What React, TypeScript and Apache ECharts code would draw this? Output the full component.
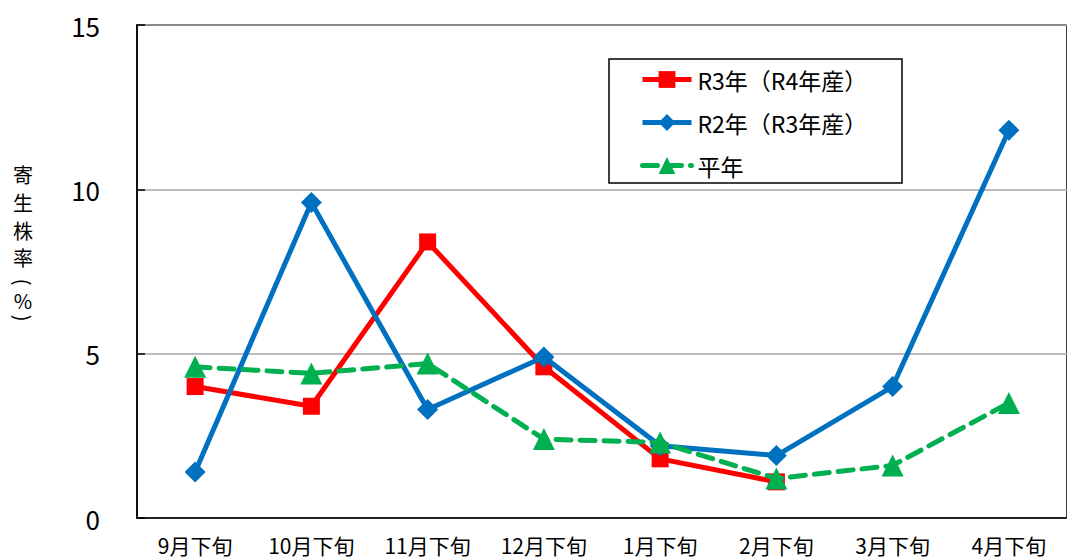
import React, { useEffect, useRef } from "react";
import * as echarts from "echarts";

const categories = ["9月下旬", "10月下旬", "11月下旬", "12月下旬", "1月下旬", "2月下旬", "3月下旬", "4月下旬"];
const seriesNames = ["R3年（R4年産）", "R2年（R3年産）", "平年"];
const r3Values = [4.0, 3.4, 8.4, 4.6, 1.8, 1.1, null, null];
const r2Values = [1.4, 9.6, 3.3, 4.9, 2.2, 1.9, 4.0, 11.8];
const avgValues = [4.6, 4.4, 4.7, 2.4, 2.3, 1.2, 1.6, 3.5];
const yTicks = { min: 0, max: 15, interval: 5 };
const yAxisNameChars = ["寄", "生", "株", "率", "(", "%", ")"];

const FONT = "'Noto Sans CJK JP', 'Noto Sans', sans-serif";

export default function App() {
  const ref = useRef<HTMLDivElement>(null);
  useEffect(() => {
    if (!ref.current) return;
    const chart = echarts.init(ref.current, undefined, { renderer: "svg" });
    const nameYs = [174, 202, 230, 257, 282, 300, 318];
    chart.setOption({
      animation: false,
      backgroundColor: "#ffffff",
      textStyle: { fontFamily: FONT },
      grid: {
        left: 137,
        width: 936,
        top: 25,
        height: 493,
        show: true,
        borderColor: "#000",
        borderWidth: 1.5,
        backgroundColor: "transparent",
      },
      legend: {
        data: seriesNames,
        orient: "vertical",
        left: 640,
        top: 68,
        padding: 0,
        itemGap: 20,
        itemWidth: 49,
        itemHeight: 21,
        z: 10,
        lineStyle: { width: 5 },
        textStyle: { fontSize: 23, color: "#000", fontFamily: FONT, lineHeight: 22, padding: [0, 0, 0, 1] },
      },
      xAxis: {
        type: "category",
        data: categories,
        boundaryGap: true,
        axisLine: { show: true, lineStyle: { color: "#000", width: 1.5 } },
        axisTick: { show: false },
        axisLabel: { fontSize: 21, color: "#000", margin: 16, fontFamily: FONT, interval: 0 },
        splitLine: { show: false },
      },
      yAxis: {
        type: "value",
        min: yTicks.min,
        max: yTicks.max,
        interval: yTicks.interval,
        axisLine: { show: true, lineStyle: { color: "#000", width: 1.5 } },
        axisTick: { show: true, inside: true, length: 8, lineStyle: { color: "#000", width: 1.5 } },
        axisLabel: { fontSize: 26, color: "#000", margin: 37, fontFamily: FONT },
        splitLine: { show: true, lineStyle: { color: "#a6a6a6", width: 1.5 } },
      },
      graphic: [
        {
          type: "rect",
          shape: { x: 609, y: 59, width: 293, height: 124 },
          style: { fill: "none", stroke: "#000", lineWidth: 1.5 },
          z: 1,
          silent: true,
        },
        ...yAxisNameChars.map((c, i) => ({
          type: "text",
          x: 23,
          y: nameYs[i],
          rotation: c === "(" || c === ")" ? -Math.PI / 2 : 0,
          style: {
            text: c,
            fontSize: 20,
            lineHeight: 22,
            fontFamily: FONT,
            fill: "#000",
            align: "center",
            verticalAlign: "middle",
          },
        })),
      ],
      series: [
        {
          name: seriesNames[0],
          type: "line",
          data: r3Values,
          symbol: "rect",
          symbolSize: 17,
          lineStyle: { color: "#ff0000", width: 5 },
          itemStyle: { color: "#ff0000" },
          connectNulls: false,
          z: 2,
        },
        {
          name: seriesNames[1],
          type: "line",
          data: r2Values,
          symbol: "diamond",
          symbolSize: 21,
          lineStyle: { color: "#0070c0", width: 5 },
          itemStyle: { color: "#0070c0" },
          z: 3,
        },
        {
          name: seriesNames[2],
          type: "line",
          data: avgValues,
          symbol: "triangle",
          symbolSize: 22,
          lineStyle: { color: "#00b050", width: 5, type: [15, 9], cap: "round" },
          itemStyle: { color: "#00b050" },
          z: 4,
        },
      ],
    });
    return () => chart.dispose();
  }, []);
  return (
    <div
      ref={ref}
      style={{ position: "fixed", left: 0, top: 0, width: 1067, height: 558, background: "#fff" }}
    />
  );
}
